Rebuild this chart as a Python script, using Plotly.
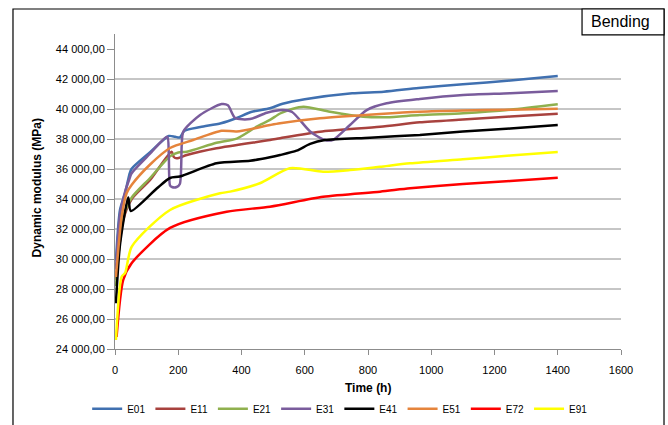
import plotly.graph_objects as go

# ---- data ----
series_names = ["E01", "E11", "E21", "E31", "E41", "E51", "E72", "E91"]
series_colors = ["#4070B0", "#A8423E", "#8FB04E", "#7A5C9C", "#000000", "#E5843C", "#FF0000", "#FFFF00"]

t_E01 = [3, 16, 32, 45, 52, 110, 170, 190, 205, 220, 270, 335, 385, 430, 490, 530, 600, 750, 850, 960, 1100, 1250, 1400]
v_E01 = [29900, 33300, 34400, 35600, 36000, 37100, 38200, 38150, 38100, 38550, 38800, 39050, 39400, 39800, 40050, 40350, 40650, 41050, 41150, 41400, 41650, 41900, 42200]

t_E11 = [3, 26, 53, 111, 179, 186, 195, 227, 321, 490, 522, 648, 838, 964, 1100, 1250, 1400]
v_E11 = [28600, 32600, 34000, 35270, 37150, 36800, 36710, 36930, 37380, 37930, 38050, 38490, 38820, 39110, 39300, 39500, 39690]

t_E21 = [3, 26, 53, 111, 174, 200, 227, 321, 385, 448, 490, 522, 560, 596, 680, 785, 859, 964, 1101, 1250, 1400]
v_E21 = [28200, 32800, 34100, 35400, 36850, 37100, 37150, 37750, 38030, 38820, 39270, 39700, 40000, 40150, 39820, 39490, 39450, 39600, 39720, 39950, 40310]

t_E31 = [3, 16, 32, 45, 52, 110, 165, 170, 174, 180, 195, 205, 211, 216, 269, 337, 357, 380, 427, 480, 530, 560, 617, 664, 690, 743, 796, 859, 964, 1101, 1250, 1400]
v_E31 = [29300, 33000, 34500, 35300, 35700, 37000, 38150, 37000, 34900, 34800, 34800, 35000, 37600, 38500, 39600, 40330, 40250, 39400, 39330, 39750, 39930, 39800, 38500, 37930, 37950, 38930, 39930, 40380, 40670, 40930, 41050, 41200]

t_E41 = [3, 16, 42, 50, 132, 174, 205, 321, 427, 490, 522, 574, 617, 664, 806, 964, 1100, 1250, 1400]
v_E41 = [27050, 31000, 34100, 33200, 34700, 35400, 35500, 36380, 36550, 36780, 36930, 37220, 37670, 37930, 38090, 38270, 38500, 38700, 38930]

t_E51 = [3, 21, 37, 53, 111, 174, 247, 337, 385, 490, 522, 648, 838, 964, 1100, 1250, 1400]
v_E51 = [28800, 32800, 34400, 34950, 36300, 37400, 37930, 38550, 38500, 38930, 39050, 39380, 39670, 39820, 39900, 39950, 40020]

t_E72 = [5, 26, 53, 174, 353, 490, 658, 838, 933, 1100, 1250, 1400]
v_E72 = [24800, 28600, 29730, 32070, 33150, 33490, 34150, 34490, 34710, 35000, 35200, 35420]

t_E91 = [3, 21, 32, 53, 174, 332, 364, 458, 553, 658, 743, 838, 933, 1100, 1250, 1400]
v_E91 = [24600, 28820, 29070, 30820, 33270, 34380, 34490, 35050, 36050, 35820, 35930, 36150, 36380, 36650, 36900, 37130]

y_ticks = [24000, 26000, 28000, 30000, 32000, 34000, 36000, 38000, 40000, 42000, 44000]
y_tick_text = ["24 000,00", "26 000,00", "28 000,00", "30 000,00", "32 000,00", "34 000,00",
               "36 000,00", "38 000,00", "40 000,00", "42 000,00", "44 000,00"]
grid_values = [26000, 28000, 30000, 32000, 34000, 36000, 38000, 40000, 42000]
x_ticks = [0, 200, 400, 600, 800, 1000, 1200, 1400, 1600]

series_t = [t_E01, t_E11, t_E21, t_E31, t_E41, t_E51, t_E72, t_E91]
series_v = [v_E01, v_E11, v_E21, v_E31, v_E41, v_E51, v_E72, v_E91]

FONT = "Liberation Sans"
GRID = "#8C8C8C"

fig = go.Figure()
for name, col, t, v in zip(series_names, series_colors, series_t, series_v):
    fig.add_trace(go.Scatter(x=t, y=v, name=name, mode="lines",
                             line=dict(color=col, width=2.5, shape="spline", smoothing=0.7)))

# horizontal gridlines (none at 44 000 in the reference)
for g in grid_values:
    fig.add_shape(type="line", xref="x", yref="y", x0=0, x1=1600, y0=g, y1=g,
                  line=dict(color=GRID, width=1), layer="below")

# outer chart border
fig.add_shape(type="rect", xref="paper", yref="paper", x0=-0.2016, x1=1.085, y0=-0.3, y1=1.0794,
              line=dict(color="#000000", width=1.2), fillcolor="rgba(0,0,0,0)")
# "Bending" box
fig.add_shape(type="rect", xref="paper", yref="paper", x0=0.923, x1=1.085, y0=0.997, y1=1.0794,
              line=dict(color="#000000", width=1.2), fillcolor="#FFFFFF")
fig.add_annotation(text="Bending", xref="paper", yref="paper", x=0.999, y=1.040,
                   showarrow=False, font=dict(family=FONT, size=16, color="#000000"),
                   xanchor="center", yanchor="middle")

# axis titles
fig.add_annotation(text="<b>Dynamic modulus (MPa)</b>", xref="paper", yref="paper",
                   x=-0.154, y=0.51, textangle=-90, showarrow=False,
                   font=dict(family=FONT, size=12, color="#000000"), xanchor="center", yanchor="middle")
fig.add_annotation(text="<b>Time (h)</b>", xref="paper", yref="paper",
                   x=0.5, y=-0.124, showarrow=False,
                   font=dict(family=FONT, size=12, color="#000000"), xanchor="center", yanchor="middle")

fig.update_layout(
    width=668, height=425,
    margin=dict(l=115, r=47, t=34, b=76, autoexpand=False),
    paper_bgcolor="#FFFFFF", plot_bgcolor="#FFFFFF",
    showlegend=True, hovermode=False,
    legend=dict(orientation="h", x=-0.055, y=-0.19, xanchor="left", yanchor="middle",
                font=dict(family=FONT, size=10, color="#000000"),
                bgcolor="rgba(0,0,0,0)", itemwidth=30, tracegroupgap=0),
    xaxis=dict(range=[0, 1600], tickvals=x_ticks, showgrid=False, zeroline=False,
               showline=True, linecolor=GRID, linewidth=1,
               ticks="outside", ticklen=5, tickcolor=GRID, ticklabelstandoff=6,
               tickfont=dict(family=FONT, size=11, color="#000000")),
    yaxis=dict(range=[24000, 45000], tickvals=y_ticks, ticktext=y_tick_text, showgrid=False,
               zeroline=False, showline=True, linecolor=GRID, linewidth=1,
               ticks="outside", ticklen=7, tickcolor=GRID,
               tickfont=dict(family=FONT, size=11, color="#000000")),
)

# remove the default 8px page margin so the 668x425 figure fills the window exactly
fig.write_html("out.html", config={"displayModeBar": False},
               post_script="document.body.style.margin='0';")
